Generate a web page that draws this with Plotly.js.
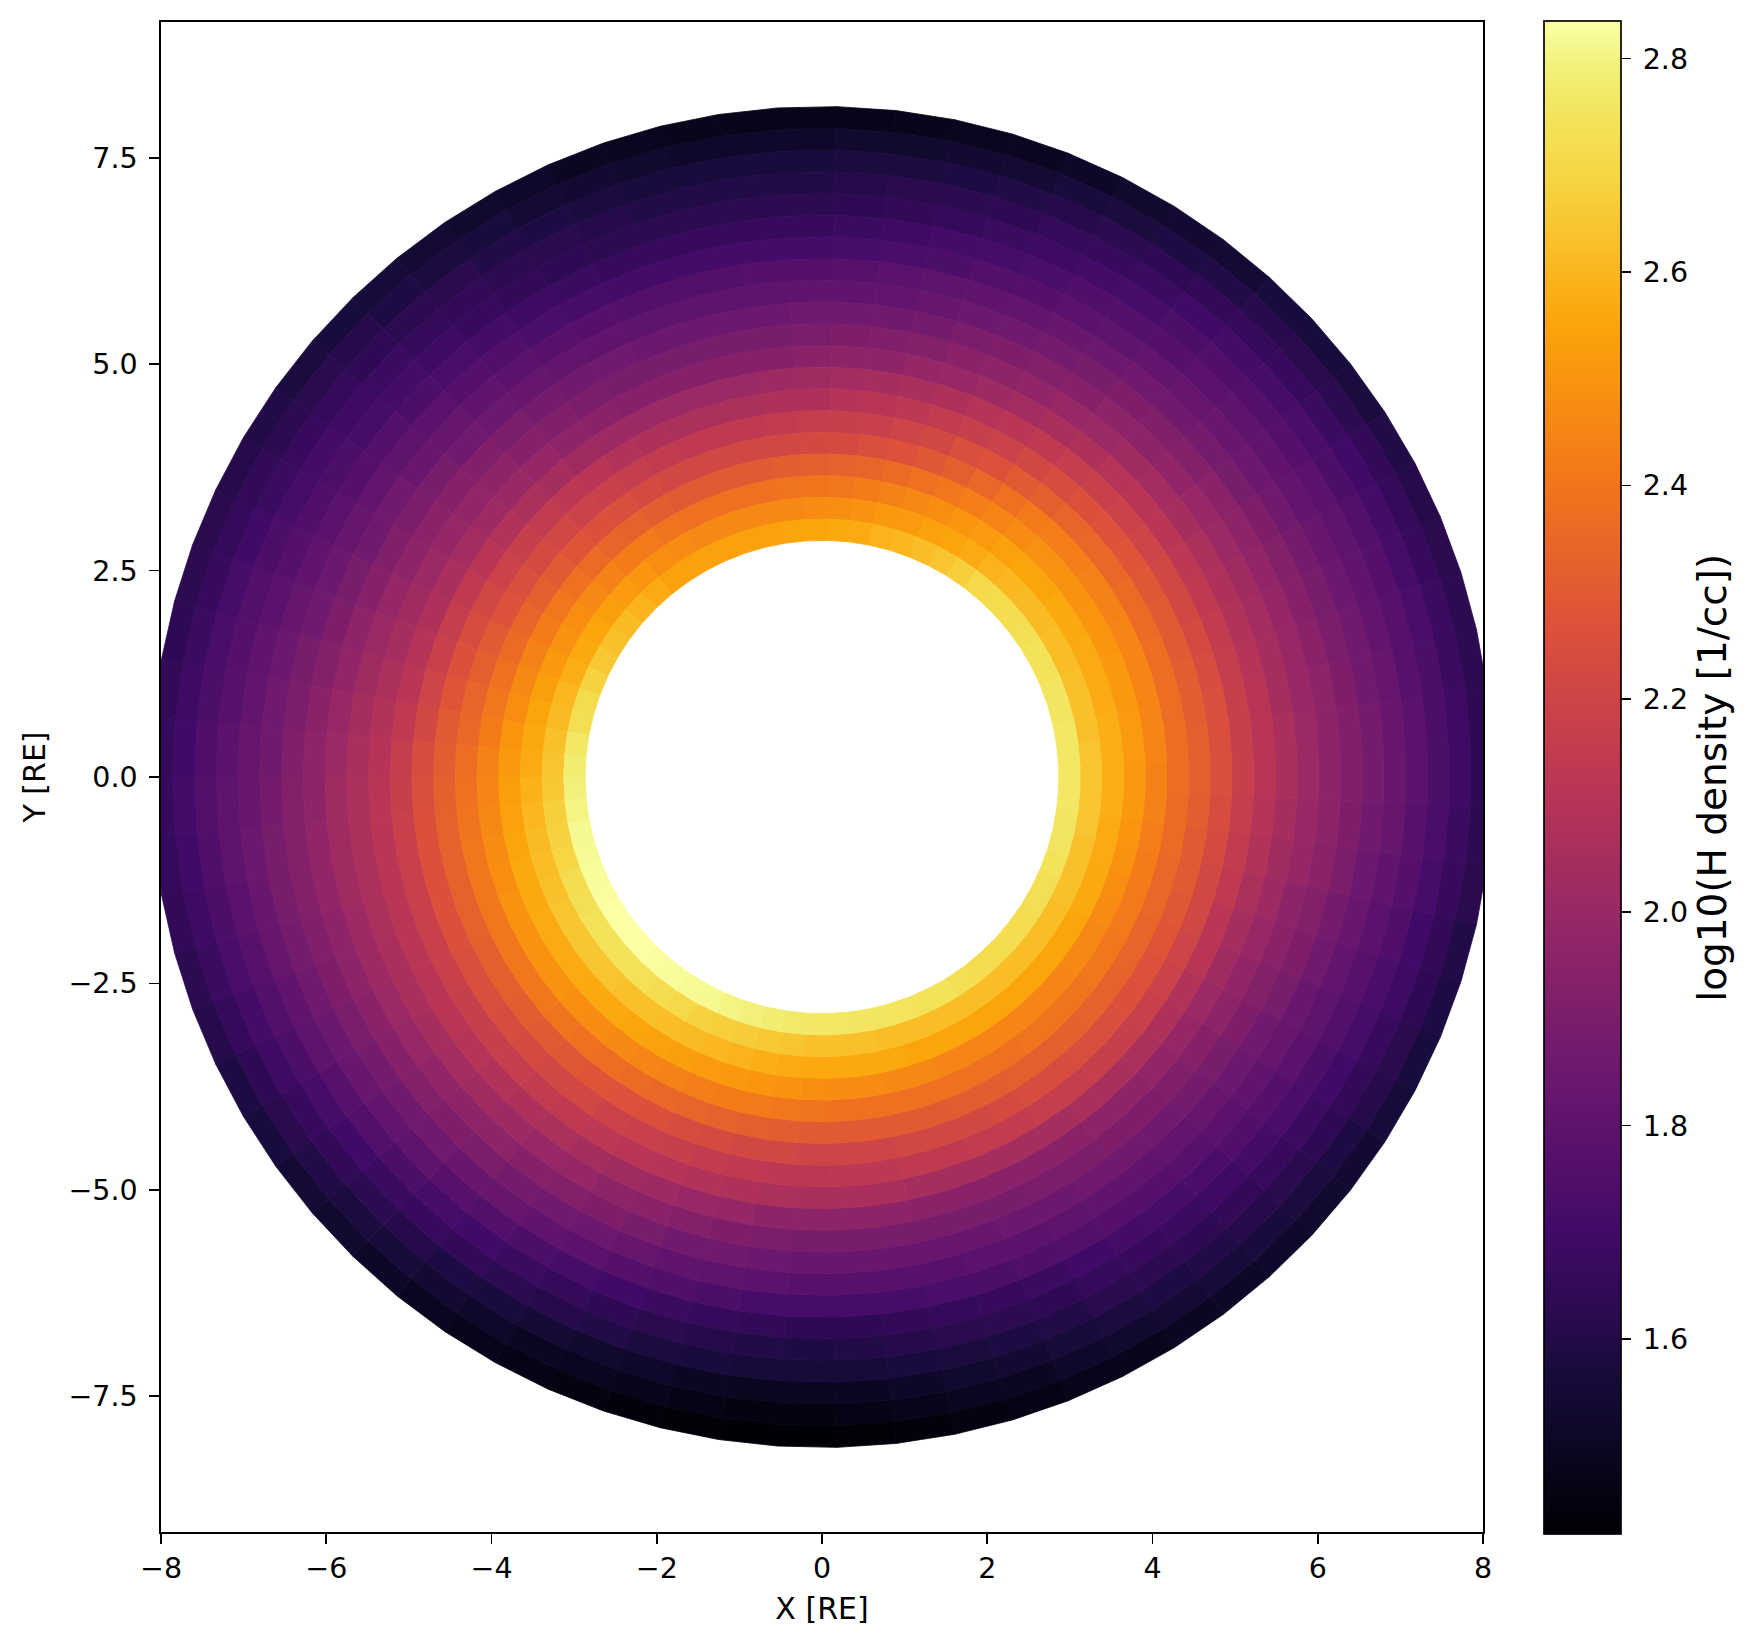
<!DOCTYPE html>
<html>
<head>
<meta charset="utf-8">
<script src="https://cdn.plot.ly/plotly-3.0.1.min.js"></script>
<style>html,body{margin:0;padding:0;background:#fff}</style>
</head>
<body>
<div id="chart" style="width:1761px;height:1649px"></div>
<script>
// 20 rings, 71 sectors of width 360/71 deg starting at theta = 0, counter-clockwise
const ringInnerEdge = 2.866;
const ringWidth = 0.2627;
const sectorCount = 71;
const valueMin = 1.417;
const valueMax = 2.835;

const ring01 = [2.76,2.76,2.76,2.75,2.75,2.74,2.74,2.73,2.72, 2.715,2.70,2.67,2.64,2.62,2.60,2.59,2.57,2.56, 2.55,2.55,2.54,2.54,2.54,2.54,2.54,2.54,2.57, 2.59,2.61,2.63,2.65,2.68,2.71,2.73,2.76,2.78, 2.79,2.80,2.81,2.82,2.825,2.83,2.835,2.835, 2.835,2.83,2.825,2.82,2.81,2.80,2.79,2.78,2.77, 2.76,2.755,2.75,2.75,2.745,2.74,2.74,2.73,2.72, 2.715,2.72,2.72,2.73,2.73,2.74,2.75,2.75,2.76];
const ring02 = [2.64,2.64,2.63,2.63,2.63,2.62,2.62,2.61,2.61, 2.60,2.59,2.57,2.55,2.54,2.52,2.51,2.49,2.48, 2.47,2.46,2.46,2.46,2.46,2.46,2.47,2.48,2.50, 2.52,2.53,2.55,2.56,2.58,2.60,2.61,2.63,2.64, 2.65,2.67,2.68,2.69,2.72,2.73,2.74,2.74, 2.74,2.735,2.72,2.70,2.68,2.67,2.66,2.65,2.64, 2.63,2.63,2.63,2.62,2.62,2.62,2.62,2.62,2.62, 2.62,2.62,2.62,2.62,2.63,2.63,2.63,2.64,2.64];
const ring03 = [2.58,2.58,2.58,2.57,2.57,2.57,2.56,2.56,2.55, 2.55,2.54,2.52,2.50,2.48,2.46,2.44,2.42,2.40, 2.395,2.39,2.38,2.38,2.38,2.38,2.39,2.41,2.42, 2.44,2.46,2.48,2.49,2.51,2.53,2.55,2.56,2.57, 2.587,2.60,2.61,2.62,2.63,2.64,2.645,2.645, 2.64,2.63,2.63,2.62,2.61,2.60,2.59,2.58,2.57, 2.565,2.56,2.56,2.56,2.55,2.55,2.55,2.55,2.55, 2.55,2.55,2.55,2.55,2.56,2.56,2.57,2.57,2.58];
const ring04 = [2.515,2.52,2.52,2.51,2.51,2.50,2.50,2.49,2.49, 2.487,2.47,2.45,2.43,2.40,2.38,2.36,2.34,2.33, 2.317,2.31,2.30,2.30,2.30,2.30,2.31,2.33,2.34, 2.36,2.38,2.40,2.42,2.44,2.46,2.48,2.50,2.51, 2.53,2.54,2.55,2.56,2.56,2.57,2.57,2.57, 2.565,2.56,2.55,2.54,2.53,2.52,2.51,2.50,2.49, 2.48,2.47,2.47,2.46,2.46,2.45,2.45,2.45,2.45, 2.45,2.45,2.46,2.46,2.47,2.48,2.49,2.50,2.51];
const ring05 = [2.44,2.45,2.45,2.45,2.45,2.45,2.44,2.44,2.43, 2.43,2.41,2.38,2.35,2.32,2.29,2.27,2.25,2.23, 2.225,2.22,2.21,2.21,2.21,2.22,2.23,2.25,2.26, 2.28,2.30,2.32,2.34,2.36,2.38,2.40,2.42,2.44, 2.45,2.46,2.47,2.48,2.49,2.49,2.49,2.49, 2.48,2.47,2.46,2.45,2.44,2.43,2.42,2.41,2.40, 2.388,2.38,2.38,2.38,2.38,2.38,2.38,2.38,2.39, 2.39,2.39,2.40,2.40,2.41,2.41,2.42,2.43,2.44];
const ring06 = [2.37,2.37,2.37,2.37,2.37,2.36,2.36,2.35,2.35, 2.34,2.32,2.30,2.27,2.25,2.22,2.20,2.18,2.17, 2.16,2.15,2.14,2.14,2.14,2.15,2.16,2.18,2.19, 2.21,2.23,2.25,2.27,2.30,2.32,2.34,2.35,2.37, 2.38,2.39,2.40,2.40,2.40,2.40,2.40,2.40, 2.39,2.38,2.37,2.36,2.35,2.34,2.33,2.32,2.31, 2.30,2.30,2.30,2.30,2.30,2.31,2.31,2.32,2.32, 2.325,2.33,2.33,2.34,2.34,2.35,2.35,2.36,2.36];
const ring07 = [2.32,2.32,2.31,2.31,2.30,2.30,2.29,2.28,2.27, 2.26,2.24,2.22,2.19,2.17,2.15,2.13,2.11,2.10, 2.08,2.08,2.07,2.07,2.07,2.08,2.09,2.11,2.13, 2.15,2.17,2.19,2.21,2.24,2.26,2.28,2.30,2.31, 2.325,2.33,2.33,2.33,2.33,2.32,2.32,2.31, 2.30,2.29,2.28,2.27,2.26,2.24,2.23,2.22,2.21, 2.20,2.20,2.20,2.21,2.21,2.22,2.23,2.24,2.24, 2.25,2.25,2.26,2.27,2.28,2.29,2.30,2.30,2.31];
const ring08 = [2.25,2.25,2.25,2.24,2.23,2.22,2.21,2.20,2.19, 2.18,2.16,2.14,2.12,2.10,2.08,2.06,2.05,2.04, 2.03,2.02,2.01,2.01,2.01,2.01,2.02,2.03,2.05, 2.07,2.09,2.11,2.14,2.16,2.18,2.20,2.22,2.24, 2.25,2.26,2.26,2.26,2.26,2.25,2.25,2.24, 2.23,2.22,2.21,2.19,2.18,2.17,2.15,2.14,2.13, 2.126,2.13,2.13,2.14,2.14,2.15,2.15,2.16,2.16, 2.17,2.17,2.18,2.19,2.20,2.21,2.22,2.23,2.24];
const ring09 = [2.17,2.17,2.17,2.16,2.15,2.14,2.13,2.12,2.11, 2.10,2.08,2.06,2.04,2.02,2.00,1.99,1.97,1.96, 1.95,1.94,1.94,1.94,1.94,1.94,1.95,1.97,1.99, 2.005,2.02,2.04,2.06,2.08,2.10,2.12,2.14,2.16, 2.17,2.18,2.18,2.18,2.18,2.18,2.17,2.17, 2.16,2.15,2.14,2.13,2.11,2.10,2.09,2.08,2.07, 2.06,2.06,2.06,2.05,2.05,2.05,2.05,2.05,2.06, 2.06,2.07,2.08,2.09,2.11,2.12,2.14,2.15,2.16];
const ring10 = [2.11,2.11,2.11,2.10,2.09,2.08,2.07,2.05,2.04, 2.03,2.01,2.00,1.98,1.96,1.95,1.93,1.92,1.91, 1.90,1.89,1.89,1.89,1.89,1.89,1.90,1.92,1.94, 1.96,1.98,1.99,2.01,2.03,2.05,2.07,2.09,2.10, 2.11,2.12,2.12,2.12,2.12,2.11,2.11,2.10, 2.09,2.08,2.07,2.05,2.03,2.02,2.00,1.99,1.97, 1.96,1.96,1.96,1.95,1.95,1.95,1.95,1.95,1.96, 1.96,1.98,1.99,2.01,2.03,2.05,2.07,2.09,2.10];
const ring11 = [2.06,2.06,2.05,2.05,2.04,2.03,2.01,2.00,1.98, 1.97,1.96,1.94,1.93,1.91,1.90,1.88,1.87,1.86, 1.86,1.85,1.85,1.85,1.85,1.86,1.87,1.88,1.90, 1.92,1.94,1.95,1.97,1.99,2.01,2.03,2.05,2.06, 2.07,2.07,2.07,2.07,2.06,2.06,2.05,2.04, 2.03,2.02,2.00,1.99,1.97,1.95,1.93,1.91,1.90, 1.89,1.89,1.89,1.89,1.89,1.89,1.90,1.90,1.91, 1.91,1.92,1.94,1.96,1.98,2.00,2.02,2.03,2.05];
const ring12 = [2.01,2.01,2.00,2.00,1.99,1.98,1.96,1.95,1.93, 1.92,1.91,1.89,1.88,1.86,1.85,1.83,1.82,1.81, 1.81,1.80,1.80,1.80,1.80,1.81,1.82,1.83,1.85, 1.87,1.89,1.90,1.92,1.94,1.96,1.98,2.00,2.01, 2.03,2.03,2.03,2.02,2.02,2.01,2.00,1.98, 1.97,1.96,1.94,1.93,1.91,1.89,1.87,1.86,1.85, 1.84,1.84,1.84,1.84,1.84,1.85,1.85,1.86,1.86, 1.87,1.88,1.89,1.91,1.93,1.95,1.97,1.99,2.00];
const ring13 = [1.97,1.97,1.96,1.95,1.94,1.93,1.91,1.89,1.88, 1.87,1.86,1.85,1.84,1.82,1.81,1.80,1.79,1.78, 1.77,1.77,1.76,1.76,1.76,1.77,1.78,1.79,1.81, 1.83,1.84,1.86,1.87,1.89,1.91,1.93,1.95,1.96, 1.97,1.98,1.98,1.97,1.96,1.95,1.94,1.93, 1.91,1.90,1.88,1.87,1.85,1.83,1.81,1.80,1.79, 1.78,1.78,1.78,1.78,1.79,1.79,1.80,1.81,1.81, 1.82,1.83,1.85,1.87,1.89,1.91,1.93,1.95,1.96];
const ring14 = [1.92,1.92,1.91,1.90,1.89,1.88,1.87,1.85,1.84, 1.83,1.82,1.80,1.79,1.77,1.76,1.74,1.73,1.72, 1.71,1.71,1.71,1.71,1.71,1.72,1.73,1.75,1.77, 1.785,1.80,1.82,1.83,1.85,1.87,1.89,1.90,1.92, 1.93,1.93,1.93,1.92,1.91,1.90,1.88,1.87, 1.86,1.84,1.83,1.81,1.79,1.77,1.75,1.74,1.72, 1.715,1.72,1.72,1.73,1.74,1.75,1.76,1.77,1.77, 1.78,1.79,1.81,1.83,1.84,1.86,1.88,1.90,1.91];
const ring15 = [1.88,1.88,1.87,1.86,1.85,1.84,1.82,1.81,1.80, 1.785,1.77,1.76,1.75,1.73,1.72,1.71,1.69,1.68, 1.67,1.67,1.67,1.67,1.67,1.68,1.69,1.71,1.73, 1.74,1.76,1.77,1.79,1.81,1.83,1.85,1.86,1.87, 1.885,1.89,1.89,1.88,1.87,1.85,1.84,1.82, 1.80,1.78,1.76,1.74,1.72,1.70,1.68,1.66,1.65, 1.64,1.64,1.65,1.66,1.67,1.68,1.70,1.71,1.72, 1.736,1.75,1.77,1.79,1.80,1.82,1.84,1.85,1.87];
const ring16 = [1.84,1.84,1.83,1.82,1.81,1.80,1.79,1.77,1.76, 1.75,1.74,1.72,1.71,1.69,1.68,1.66,1.65,1.64, 1.63,1.63,1.63,1.63,1.63,1.64,1.65,1.67,1.69, 1.71,1.72,1.74,1.75,1.77,1.79,1.81,1.82,1.83, 1.84,1.85,1.84,1.83,1.81,1.80,1.78,1.76, 1.74,1.72,1.70,1.68,1.66,1.64,1.62,1.61,1.60, 1.59,1.60,1.61,1.62,1.63,1.64,1.66,1.67,1.68, 1.69,1.71,1.73,1.74,1.76,1.78,1.79,1.81,1.83];
const ring17 = [1.79,1.79,1.78,1.78,1.77,1.76,1.74,1.73,1.72, 1.71,1.70,1.68,1.67,1.66,1.64,1.63,1.62,1.61, 1.60,1.60,1.60,1.60,1.61,1.62,1.63,1.65,1.66, 1.68,1.69,1.71,1.72,1.74,1.76,1.77,1.78,1.79, 1.80,1.80,1.79,1.78,1.76,1.74,1.72,1.70, 1.68,1.67,1.65,1.63,1.61,1.60,1.58,1.57,1.56, 1.56,1.56,1.57,1.58,1.59,1.60,1.62,1.63,1.64, 1.65,1.67,1.68,1.70,1.72,1.73,1.75,1.77,1.78];
const ring18 = [1.74,1.74,1.74,1.73,1.72,1.71,1.70,1.68,1.67, 1.66,1.65,1.64,1.63,1.61,1.60,1.59,1.58,1.58, 1.57,1.57,1.57,1.57,1.58,1.59,1.60,1.62,1.63, 1.64,1.66,1.67,1.68,1.70,1.72,1.73,1.74,1.75, 1.76,1.75,1.74,1.73,1.71,1.69,1.67,1.65, 1.63,1.61,1.59,1.57,1.55,1.53,1.52,1.50,1.49, 1.49,1.50,1.51,1.53,1.54,1.56,1.58,1.59,1.60, 1.61,1.62,1.64,1.65,1.67,1.69,1.70,1.72,1.73];
const ring19 = [1.69,1.69,1.68,1.68,1.67,1.66,1.65,1.63,1.62, 1.615,1.60,1.59,1.58,1.57,1.55,1.54,1.53,1.53, 1.52,1.52,1.52,1.53,1.54,1.55,1.57,1.58,1.59, 1.61,1.62,1.63,1.65,1.66,1.67,1.68,1.69,1.70, 1.71,1.70,1.69,1.68,1.66,1.64,1.62,1.60, 1.58,1.56,1.54,1.52,1.50,1.49,1.47,1.46,1.45, 1.45,1.46,1.47,1.49,1.50,1.52,1.53,1.55,1.56, 1.57,1.58,1.59,1.61,1.62,1.64,1.65,1.67,1.68];
const ring20 = [1.64,1.64,1.63,1.63,1.62,1.61,1.60,1.58,1.57, 1.57,1.55,1.54,1.53,1.51,1.50,1.49,1.48,1.47, 1.47,1.47,1.48,1.49,1.50,1.52,1.53,1.55,1.56, 1.57,1.58,1.60,1.61,1.62,1.63,1.64,1.65,1.66, 1.665,1.66,1.65,1.63,1.61,1.59,1.57,1.55, 1.53,1.51,1.49,1.47,1.46,1.45,1.44,1.43,1.42, 1.42,1.43,1.44,1.45,1.46,1.47,1.48,1.50,1.51, 1.52,1.53,1.54,1.56,1.57,1.59,1.60,1.62,1.63];
const rings = [ring01,ring02,ring03,ring04,ring05,ring06,ring07,ring08,ring09,ring10,ring11,ring12,ring13,ring14,ring15,ring16,ring17,ring18,ring19,ring20];

const infernoPositions = [0,0.1,0.2,0.3,0.4,0.5,0.6,0.7,0.8,0.9,0.93,0.953,0.973,0.985,1];
const infernoColors = ['#000004','#160b39','#420a68','#6a176e','#932667','#bc3754','#dd513a','#f37819','#fca50a','#f6d746','#f4e156','#f1ea69','#f2f27d','#f6f990','#fcffa4'];
const xTicks = [-8,-6,-4,-2,0,2,4,6,8];
const yTicks = [-7.5,-5,-2.5,0,2.5,5,7.5];
const colorbarTicks = [1.6,1.8,2.0,2.2,2.4,2.6,2.8];

const FONT = 'DejaVu Sans, sans-serif';
const infernoScale = infernoColors.map((c,i)=>[infernoPositions[i],c]);

function hexRgb(h){return [1,3,5].map(i=>parseInt(h.substr(i,2),16));}
function infernoAt(t){
  t = Math.min(Math.max(t,0),1);
  let i = 0;
  while(i<infernoPositions.length-2 && t>infernoPositions[i+1]) i++;
  const f = (t-infernoPositions[i])/(infernoPositions[i+1]-infernoPositions[i]);
  const a = hexRgb(infernoColors[i]), b = hexRgb(infernoColors[i+1]);
  return 'rgb('+a.map((v,j)=>Math.round(v+(b[j]-v)*f)).join(',')+')';
}

// group cells in 256 colour levels, like a 256-entry colormap
const buckets = new Map();
const dTheta = 2*Math.PI/sectorCount;
rings.forEach((ring,i)=>{
  const r0 = ringInnerEdge+i*ringWidth, r1 = r0+ringWidth;
  ring.forEach((v,k)=>{
    const a0 = (k-0.5)*dTheta, a1 = (k+0.5)*dTheta;
    const level = Math.round((v-valueMin)/(valueMax-valueMin)*255);
    if(!buckets.has(level)) buckets.set(level,{x:[],y:[]});
    const b = buckets.get(level);
    b.x.push(r0*Math.cos(a0),r1*Math.cos(a0),r1*Math.cos(a1),r0*Math.cos(a1),r0*Math.cos(a0),null);
    b.y.push(r0*Math.sin(a0),r1*Math.sin(a0),r1*Math.sin(a1),r0*Math.sin(a1),r0*Math.sin(a0),null);
  });
});

const traces = [];
const levels = [...buckets.keys()].sort((a,b)=>a-b);
// underlay: thin same-colour outlines closing the anti-aliasing seams
levels.forEach(level=>{
  const b = buckets.get(level), c = infernoAt(level/255);
  traces.push({type:'scatter',mode:'lines',x:b.x,y:b.y,line:{color:c,width:0.8},hoverinfo:'skip',showlegend:false});
});
levels.forEach(level=>{
  const b = buckets.get(level), c = infernoAt(level/255);
  traces.push({type:'scatter',mode:'lines',x:b.x,y:b.y,fill:'toself',fillcolor:c,
    line:{color:c,width:0},hoverinfo:'skip',showlegend:false});
});

// colorbar carrier
traces.push({type:'scatter',mode:'markers',x:[0,0],y:[0,0],hoverinfo:'skip',showlegend:false,
  marker:{size:1,opacity:0,color:[valueMin,valueMax],cmin:valueMin,cmax:valueMax,colorscale:infernoScale,showscale:true,
    colorbar:{
      x:(1544-160.5)/1322.5,xanchor:'left',xpad:0,y:0.4995,yanchor:'middle',ypad:0,
      thickness:77,thicknessmode:'pixels',len:1513,lenmode:'pixels',
      outlinecolor:'#000',outlinewidth:1.7,
      tickmode:'array',tickvals:colorbarTicks,ticktext:colorbarTicks.map(v=>'\u2009'+v.toFixed(1)),
      ticks:'outside',ticklen:10,tickwidth:1.7,tickcolor:'#000',
      tickfont:{family:FONT,size:28.5,color:'#000'},
      title:{text:'log10(H density [1/cc])',side:'right',font:{family:FONT,size:39,color:'#000'}}
    }}});

const axisBase = {showgrid:false,zeroline:false,showline:true,mirror:true,linecolor:'#000',linewidth:1.7,
  ticks:'outside',ticklen:10,tickwidth:1.7,tickcolor:'#000',tickfont:{family:FONT,size:28.5,color:'#000'},tickmode:'array'};

const layout = {
  width:1761,height:1649,autosize:false,paper_bgcolor:'#fff',plot_bgcolor:'#fff',
  margin:{l:160.5,r:278,t:21.5,b:117,pad:0},showlegend:false,
  xaxis:Object.assign({},axisBase,{range:[-8,8],tickvals:xTicks,ticktext:xTicks.map(v=>String(v).replace('-','\u2212')),
    title:{text:'X [RE]',font:{family:FONT,size:30,color:'#000'},standoff:14}}),
  yaxis:Object.assign({},axisBase,{range:[-9.143,9.143],tickvals:yTicks,ticktext:yTicks.map(v=>v.toFixed(1).replace('-','\u2212')),
    ticklabelstandoff:6,
    title:{text:'Y [RE]',font:{family:FONT,size:30,color:'#000'},standoff:14}})
};

Plotly.newPlot('chart',traces,layout,{displayModeBar:false,responsive:false,staticPlot:true});
</script>
</body>
</html>
